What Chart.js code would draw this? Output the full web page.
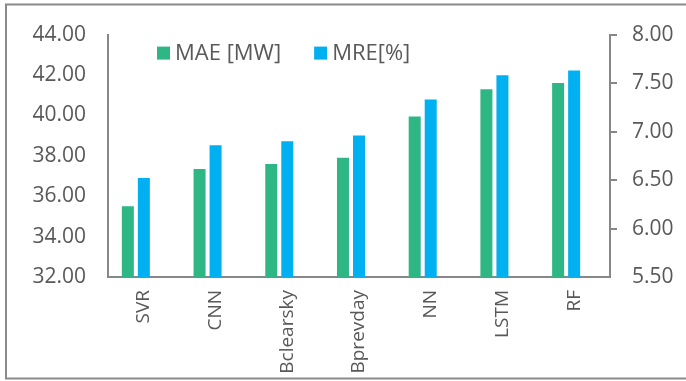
<!DOCTYPE html>
<html>
<head>
<meta charset="utf-8">
<script src="https://cdn.jsdelivr.net/npm/chart.js@4.4.1/dist/chart.umd.min.js"></script>
<style>
  html, body { margin: 0; padding: 0; background: #ffffff; }
  #wrap { width: 686px; height: 381px; position: relative; }
</style>
</head>
<body>
<div id="wrap"><canvas id="chart" width="686" height="381"></canvas></div>
<script>
// Forecast error per model
const categories = ['SVR', 'CNN', 'Bclearsky', 'Bprevday', 'NN', 'LSTM', 'RF'];
const maeValues = [35.5, 37.35, 37.6, 37.9, 39.95, 41.3, 41.6];   // MAE [MW], left axis
const mreValues = [6.52, 6.86, 6.90, 6.96, 7.33, 7.58, 7.63];     // MRE [%], right axis
const seriesNames = ['MAE [MW]', 'MRE[%]'];
const leftTicks = [32, 34, 36, 38, 40, 42, 44];
const rightTicks = [5.5, 6.0, 6.5, 7.0, 7.5, 8.0];

const GREEN = '#2EB785';
const BLUE = '#00B0F0';
const AXIS = '#878787';
const TEXT = '#595959';
const FONT = "'Open Sans', 'Liberation Sans', sans-serif";

// Outer frame and white background
const framePlugin = {
  id: 'frame',
  beforeDraw(chart) {
    const ctx = chart.ctx;
    ctx.save();
    ctx.fillStyle = '#ffffff';
    ctx.fillRect(0, 0, chart.width, chart.height);
    ctx.strokeStyle = '#8a8a8a';
    ctx.lineWidth = 2;
    ctx.strokeRect(6, 4.5, chart.width + 10, 374);
    ctx.restore();
  }
};

// Legend drawn inside the plot area, near the top
const innerLegend = {
  id: 'innerLegend',
  afterDraw(chart) {
    const ctx = chart.ctx;
    const area = chart.chartArea;
    ctx.save();
    ctx.font = "22px " + FONT;
    ctx.textBaseline = 'alphabetic';
    ctx.textAlign = 'left';
    let x = area.left + 49;
    const top = area.top + 12;
    chart.data.datasets.forEach(ds => {
      if (!ds.label) return;
      ctx.fillStyle = ds.backgroundColor;
      ctx.fillRect(x, top, 13, 13);
      ctx.fillStyle = TEXT;
      ctx.fillText(ds.label, x + 18, top + 13);
      x += 18 + ctx.measureText(ds.label).width + 33;
    });
    ctx.restore();
  }
};

const fixedTicks = list => scale => { scale.ticks = list.map(v => ({ value: v })); };

new Chart(document.getElementById('chart'), {
  type: 'bar',
  data: {
    labels: categories,
    datasets: [
      { label: seriesNames[0], data: maeValues, backgroundColor: GREEN, yAxisID: 'y' },
      { label: seriesNames[1], data: mreValues, backgroundColor: BLUE, yAxisID: 'y1' },
      // empty third slot of each group (unlabelled series)
      { label: '', data: categories.map(() => null), backgroundColor: 'rgba(0,0,0,0)', yAxisID: 'y' }
    ]
  },
  options: {
    responsive: false,
    animation: false,
    devicePixelRatio: 1,
    categoryPercentage: 0.67,
    barPercentage: 0.75,
    layout: { padding: { top: 31, left: 0, right: 0, bottom: 0 } },
    plugins: {
      legend: { display: false },
      tooltip: { enabled: false }
    },
    scales: {
      x: {
        offset: true,
        grid: { display: false, drawTicks: false },
        border: { display: true, color: AXIS, width: 2 },
        ticks: {
          autoSkip: false, minRotation: 90, maxRotation: 90, padding: 13,
          color: TEXT, font: { family: FONT, size: 19 }
        },
        afterFit: s => { s.height = 104; }
      },
      y: {
        position: 'left',
        min: leftTicks[0], max: leftTicks[leftTicks.length - 1],
        afterBuildTicks: fixedTicks(leftTicks),
        grid: { display: false, drawTicks: false },
        border: { display: true, color: AXIS, width: 2 },
        ticks: {
          padding: 22, color: TEXT, font: { family: FONT, size: 21 },
          callback: v => Number(v).toFixed(2)
        },
        afterFit: s => { s.width = 108; }
      },
      y1: {
        position: 'right',
        min: rightTicks[0], max: rightTicks[rightTicks.length - 1],
        afterBuildTicks: fixedTicks(rightTicks),
        grid: {
          display: true, drawOnChartArea: false, drawTicks: true, tickLength: 7,
          lineWidth: 2, color: AXIS,
          tickColor: c => (c.index === 0 ? 'rgba(0,0,0,0)' : AXIS)
        },
        border: { display: true, color: AXIS, width: 2 },
        ticks: {
          padding: 15, color: TEXT, font: { family: FONT, size: 21 },
          callback: v => Number(v).toFixed(2)
        },
        afterFit: s => { s.width = 76; }
      }
    }
  },
  plugins: [framePlugin, innerLegend]
});
</script>
</body>
</html>
